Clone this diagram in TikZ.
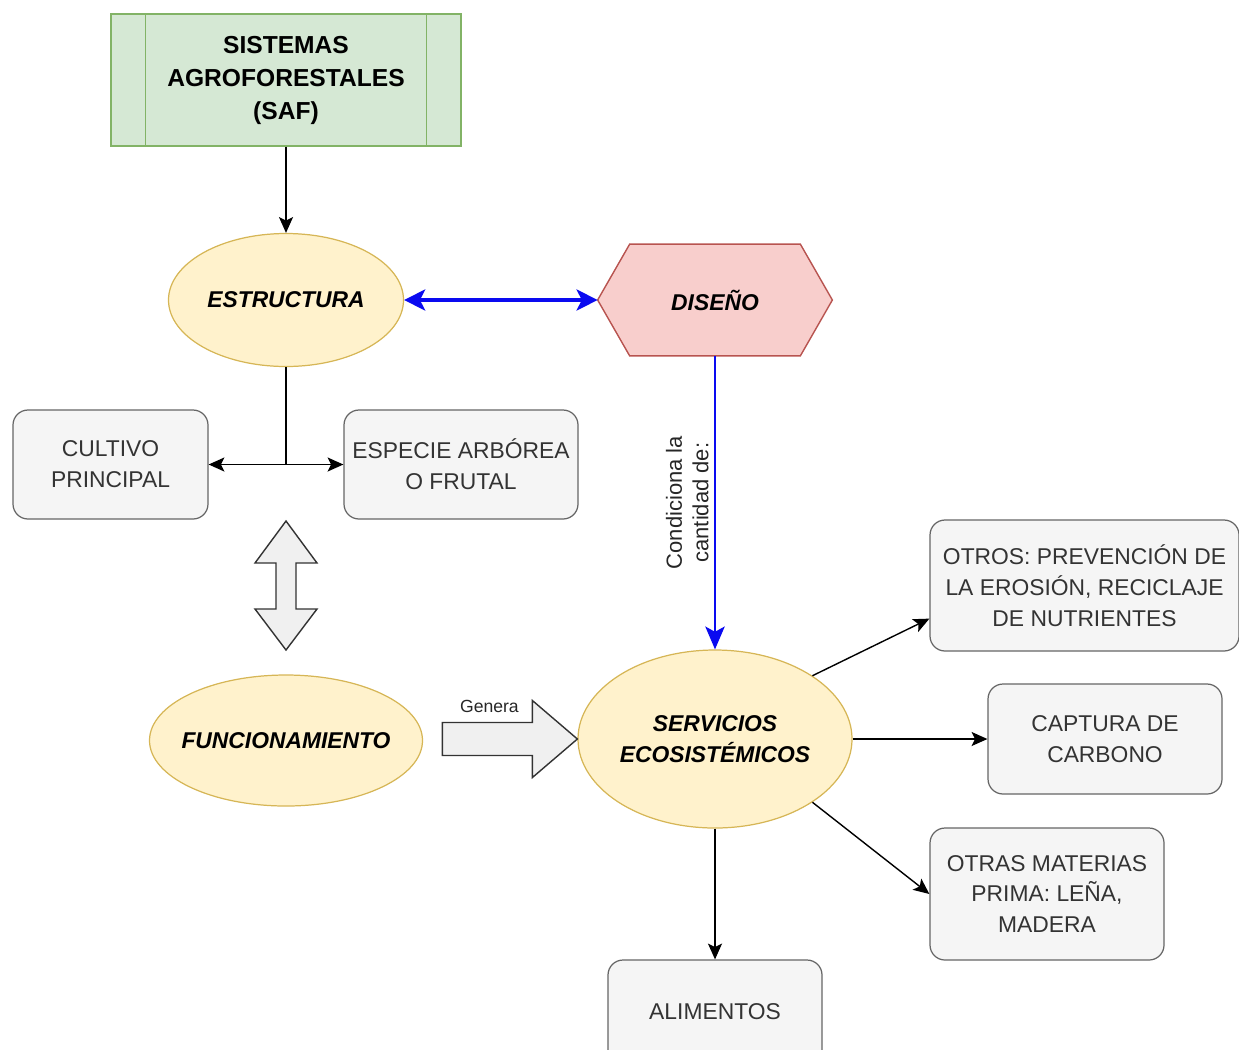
\documentclass[tikz,border=0pt]{standalone}
\usepackage{fontspec}
\setmainfont{Liberation Sans}
\usepackage{xcolor}
\usetikzlibrary{shapes.geometric,arrows.meta,positioning,calc,backgrounds}
\definecolor{safFill}{HTML}{D5E8D4}
\definecolor{safLine}{HTML}{82B366}
\definecolor{ellFill}{HTML}{FFF2CC}
\definecolor{ellLine}{HTML}{D6B656}
\definecolor{hexFill}{HTML}{F8CECC}
\definecolor{hexLine}{HTML}{B85450}
\definecolor{boxFill}{HTML}{F5F5F5}
\definecolor{boxLine}{HTML}{666666}
\definecolor{boxText}{HTML}{333333}
\definecolor{linkBlue}{HTML}{0A0AF0}

\begin{document}
\begin{tikzpicture}[
  safbox/.style={draw=safLine, fill=safFill, line width=0.8pt, align=center, font=\fontsize{14}{18.8}\selectfont\bfseries},
  ell/.style={ellipse, draw=ellLine, fill=ellFill, line width=0.7pt, align=center, inner xsep=-0.4cm, inner ysep=0pt, font=\fontsize{13}{18}\selectfont\bfseries\itshape},
  hexbox/.style={inner sep=0pt, font=\fontsize{13}{18}\selectfont\bfseries\itshape},
  box/.style={draw=boxLine, fill=boxFill, line width=0.7pt, rounded corners=0.3cm, align=center, text=boxText, inner sep=1pt, font=\fontsize{13}{17.6}\selectfont},
  arr/.style={-{Stealth[length=9pt,width=8pt,inset=2pt]}, line width=0.8pt},
  bluearr/.style={{Stealth[length=12pt,width=12pt,inset=3pt]}-{Stealth[length=12pt,width=12pt,inset=3pt]}, linkBlue, line width=2pt},
  bluedown/.style={-{Stealth[length=13pt,width=11pt,inset=3pt]}, linkBlue, line width=1.4pt},
  blockarr/.style={draw=black!80, fill=black!6, line width=0.8pt, line join=miter}
]
\useasboundingbox (0,0) rectangle (24.78,-20.98);
% Column positions
\def\xL{5.72} \def\xR{14.3}

% Top part
\node[safbox, minimum width=7cm, minimum height=2.64cm] (saf) at (\xL,-1.6) {SISTEMAS\\AGROFORESTALES\\(SAF)};
\draw[safLine, line width=0.8pt] ($(saf.north west)+(0.7,0)$) -- ($(saf.south west)+(0.7,0)$);
\draw[safLine, line width=0.8pt] ($(saf.north east)+(-0.7,0)$) -- ($(saf.south east)+(-0.7,0)$);
\node[ell, minimum width=4.7cm, minimum height=2.66cm] (estr) at (\xL,-6) {ESTRUCTURA};
\node[hexbox, minimum width=4.68cm, minimum height=2.22cm] (dis) at (\xR,-6) {DISEÑO};
\begin{scope}[on background layer]
  \draw[draw=hexLine, fill=hexFill, line width=0.8pt] (dis.west) -- ($(dis.north west)+(0.64,0)$) -- ($(dis.north east)+(-0.64,0)$)
    -- (dis.east) -- ($(dis.south east)+(-0.64,0)$) -- ($(dis.south west)+(0.64,0)$) -- cycle;
\end{scope}

% Structure components
\node[box, minimum width=3.9cm, minimum height=2.18cm] (cult) at (2.21,-9.29) {CULTIVO\\PRINCIPAL};
\node[box, minimum width=4.68cm, minimum height=2.18cm] (esp) at (9.22,-9.29) {ESPECIE ARBÓREA\\O FRUTAL};
\coordinate (jn) at (estr.south |- cult.east);

% Ellipses below
\node[ell, minimum width=5.46cm, minimum height=2.62cm] (func) at (\xL,-14.81) {FUNCIONAMIENTO};
\node[ell, minimum width=5.48cm, minimum height=3.56cm] (serv) at (\xR,-14.78) {SERVICIOS\\ECOSISTÉMICOS};

% Services
\node[box, minimum width=6.18cm, minimum height=2.62cm] (otros) at (21.69,-11.71) {OTROS: PREVENCIÓN DE\\LA EROSIÓN, RECICLAJE\\DE NUTRIENTES};
\node[box, minimum width=4.68cm, minimum height=2.2cm] (capt) at (22.1,-14.78) {CAPTURA DE\\CARBONO};
\node[box, minimum width=4.68cm, minimum height=2.64cm] (otras) at (20.94,-17.88) {OTRAS MATERIAS\\PRIMA: LEÑA,\\MADERA};
\node[box, minimum width=4.28cm, minimum height=2.08cm] (alim) at (\xR,-20.24) {ALIMENTOS};

% Connectors
\draw[arr] (saf) -- (estr);
\draw[line width=0.8pt] (estr.south) -- (jn);
\draw[arr] (jn) -- (cult.east);
\draw[arr] (jn) -- (esp.west);
\draw[bluearr] (estr.east) -- (dis.west);
\draw[bluedown] (dis.south) -- node[midway, rotate=90, anchor=south, align=center, inner sep=3pt,
  font=\fontsize{12.5}{15}\selectfont, text=black!85] {Condiciona la\\cantidad de:} (serv.north);
\draw[arr] (serv.33) -- ($(otros.south west)+(0,0.66)$);
\draw[arr] (serv.east) -- (capt.west);
\draw[arr] (serv.-33) -- (otras.west);
\draw[arr] (serv.south) -- (alim.north);

% Block arrows
\coordinate (dtop) at (\xL,-10.42);
\coordinate (dbot) at (\xL,-13.0);
\draw[blockarr] (dtop) -- ++(0.62,-0.84) -- ++(-0.42,0) -- ++(0,-0.92) -- ++(0.42,0) -- (dbot)
  -- ++(-0.62,0.82) -- ++(0.42,0) -- ++(0,0.92) -- ++(-0.42,0) -- cycle;
\coordinate (gtip) at (serv.west);
\draw[blockarr] (gtip) -- ++(-0.9,0.77) -- ++(0,-0.44) -- ++(-1.8,0) -- ++(0,-0.66) -- ++(1.8,0) -- ++(0,-0.44) -- cycle;
\node[font=\fontsize{10}{12}\selectfont, text=black!85] (genlbl) at ($(gtip)+(-1.76,0.66)$) {Genera};
\end{tikzpicture}
\end{document}
